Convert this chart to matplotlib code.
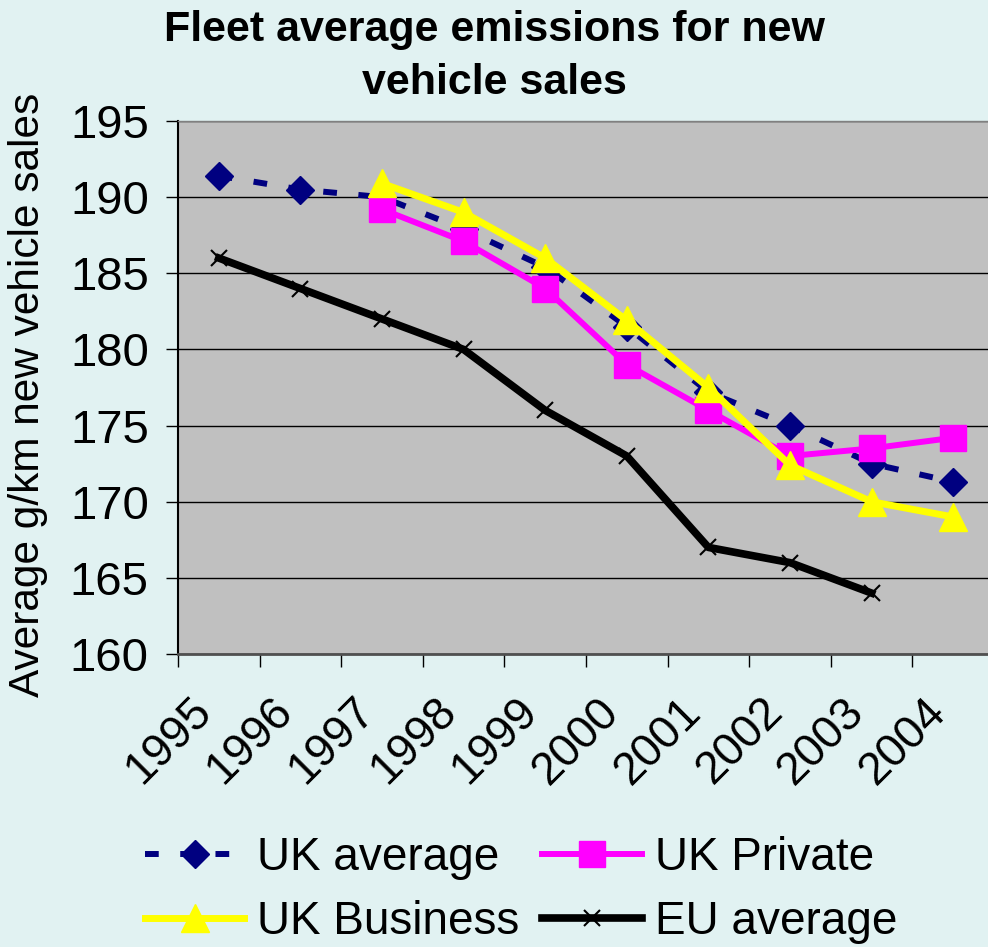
import matplotlib
matplotlib.use("Agg")
import matplotlib.pyplot as plt
from matplotlib.transforms import ScaledTranslation
import numpy as np

plt.rcParams['font.family'] = ['Liberation Sans', 'DejaVu Sans']

years = ['1995', '1996', '1997', '1998', '1999', '2000', '2001', '2002', '2003', '2004']
uk_average = [191.4, 190.5, 190.0, 187.9, 185.4, 181.5, 177.2, 175.0, 172.5, 171.3]
uk_private = [None, None, 189.2, 187.1, 184.0, 179.0, 176.0, 173.0, 173.5, 174.2]
uk_business = [None, None, 190.9, 189.0, 186.0, 181.9, 177.5, 172.4, 170.0, 169.0]
eu_average = [186.0, 184.0, 182.0, 180.0, 176.0, 173.0, 167.0, 166.0, 164.0, None]

def arr(v):
    return np.array([np.nan if x is None else x for x in v], dtype=float)

bg = '#E1F2F2'
fig = plt.figure(figsize=(9.88, 9.47), dpi=100, facecolor=bg)
ax = fig.add_axes([178/988, 1-654/947, 816/988, 533/947])
ax.set_facecolor('#C0C0C0')

x = np.arange(len(years)) + 0.5
ax.set_xlim(0, 10)
ax.set_ylim(160, 195)
ax.set_yticks(np.arange(160, 196, 5))
ax.yaxis.grid(True, color='black', lw=1.0)
ax.set_axisbelow(True)

l_avg, = ax.plot(x, arr(uk_average), color='#000080', lw=4.3, dashes=(2.3, 3.6),
                 marker='D', ms=14.5, mec='#000080', mfc='#000080', zorder=3)
l_priv, = ax.plot(x, arr(uk_private), color='#FF00FF', lw=4.3,
                  marker='s', ms=18.5, mec='#FF00FF', mfc='#FF00FF', zorder=4)
l_bus, = ax.plot(x, arr(uk_business), color='#FFFF00', lw=5.0,
                 marker='^', ms=19.5, mec='#FFFF00', mfc='#FFFF00', zorder=5)
l_eu, = ax.plot(x, arr(eu_average), color='black', lw=5.5,
                marker='x', ms=11.5, mew=1.5, mec='black', zorder=3)

# x axis: category labels at centres (drawn as text), ticks at boundaries
ax.set_xticks(np.arange(0, 11))
ax.set_xticklabels([])
ax.tick_params(axis='x', length=9.5, width=1.0, color='black', direction='out')
off = ScaledTranslation(-14/100, -51/100, fig.dpi_scale_trans)
for xi, lab in zip(x, years):
    ax.text(xi, 0, lab, transform=ax.get_xaxis_transform() + off, rotation=45,
            rotation_mode='anchor', ha='right', va='center', fontsize=33, clip_on=False)

ax.tick_params(axis='y', length=9, width=1.0, color='black', direction='out', labelsize=34, pad=12)

for s in ['top', 'right']:
    ax.spines[s].set_color('#808080')
    ax.spines[s].set_linewidth(1.0)
ax.spines['left'].set_color('black')
ax.spines['left'].set_linewidth(1.5)
ax.spines['bottom'].set_color('#505050')
ax.spines['bottom'].set_linewidth(2.0)

fig.text(494/988, 1-10/947, 'Fleet average emissions for new\nvehicle sales', ha='center', va='top',
         fontsize=31, fontweight='bold', linespacing=1.41)
fig.text(28/988, 1-395/947, 'Average g/km new vehicle sales', rotation=90, ha='center', va='center',
         fontsize=30.5)

leg = fig.legend([l_avg, l_bus, l_priv, l_eu], ['UK average', 'UK Business', 'UK Private', 'EU average'],
                 ncol=2, loc='upper left', bbox_to_anchor=(145/988, 1-836/947), frameon=False,
                 fontsize=33, handlelength=2.17, handletextpad=0.28, columnspacing=0.5,
                 labelspacing=0.44, borderpad=0, borderaxespad=0, markerscale=1.0)

fig.savefig('out.png', dpi=100, facecolor=bg)
